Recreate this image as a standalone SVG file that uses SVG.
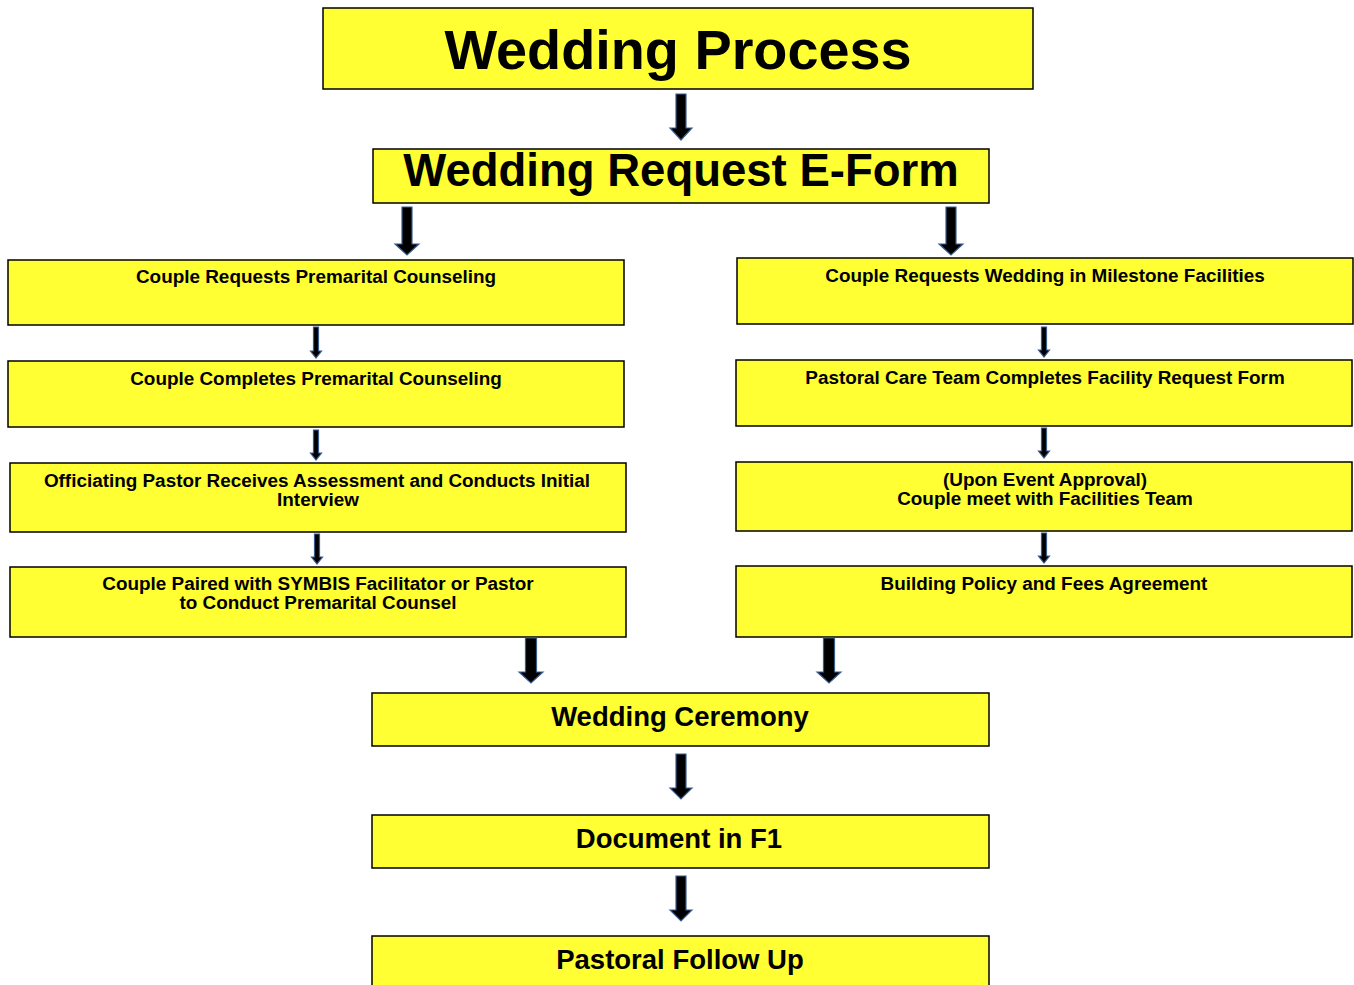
<svg xmlns="http://www.w3.org/2000/svg" width="1354" height="985" viewBox="0 0 1354 985">
<style>
.box{fill:#FFFF33;stroke:#000;stroke-width:1.5}
.arr{fill:#000;stroke:#3B5C8F;stroke-width:1.2;stroke-linejoin:miter}
text{font-family:"Liberation Sans",Arial,sans-serif;font-weight:bold;fill:#000;text-anchor:middle}
.s{font-size:18.9px}
.m{font-size:27.5px}
</style>
<rect width="1354" height="985" fill="#fff"/>
<g id="n-process"><rect class="box" x="323" y="8" width="710" height="81"/><text x="678" y="69" style="font-size:55.8px">Wedding Process</text></g>
<g id="n-eform"><rect class="box" x="373" y="149" width="616" height="54"/><text x="681" y="186" style="font-size:45.5px">Wedding Request E-Form</text></g>
<g id="n-l1"><rect class="box" x="8" y="260" width="616" height="65"/><text class="s" x="316" y="282.5">Couple Requests Premarital Counseling</text></g>
<g id="n-l2"><rect class="box" x="8" y="361" width="616" height="66"/><text class="s" x="316" y="384.5">Couple Completes Premarital Counseling</text></g>
<g id="n-l3"><rect class="box" x="10" y="463" width="616" height="69"/><text class="s" x="317" y="486.5">Officiating Pastor Receives Assessment and Conducts Initial</text><text class="s" x="318" y="505.5">Interview</text></g>
<g id="n-l4"><rect class="box" x="10" y="567" width="616" height="70"/><text class="s" x="318" y="589.5">Couple Paired with SYMBIS Facilitator or Pastor</text><text class="s" x="318" y="608.5">to Conduct Premarital Counsel</text></g>
<g id="n-r1"><rect class="box" x="737" y="258" width="616" height="66"/><text class="s" x="1045" y="281.5">Couple Requests Wedding in Milestone Facilities</text></g>
<g id="n-r2"><rect class="box" x="736" y="360" width="616" height="66"/><text class="s" x="1045" y="383.5">Pastoral Care Team Completes Facility Request Form</text></g>
<g id="n-r3"><rect class="box" x="736" y="462" width="616" height="69"/><text class="s" x="1045" y="485.5">(Upon Event Approval)</text><text class="s" x="1045" y="504.5">Couple meet with Facilities Team</text></g>
<g id="n-r4"><rect class="box" x="736" y="566" width="616" height="71"/><text class="s" x="1044" y="589.5">Building Policy and Fees Agreement</text></g>
<g id="n-ceremony"><rect class="box" x="372" y="693" width="617" height="53"/><text class="m" x="680" y="726">Wedding Ceremony</text></g>
<g id="n-document"><rect class="box" x="372" y="815" width="617" height="53"/><text class="m" x="679" y="848">Document in F1</text></g>
<g id="n-followup"><rect class="box" x="372" y="936" width="617" height="60"/><text class="m" x="680" y="969">Pastoral Follow Up</text></g>
<g id="connectors">
<polygon class="arr" points="676,94 686,94 686,128 692,128 681,140 670,128 676,128"/>
<polygon class="arr" points="402,207 412,207 412,244 419,244 407,255 395,244 402,244"/>
<polygon class="arr" points="946,207 956,207 956,244 963,244 951,255 939,244 946,244"/>
<polygon class="arr" points="313.5,327 318.5,327 318.5,351 321.5,351 316,358 310.5,351 313.5,351"/>
<polygon class="arr" points="313.5,430 318.5,430 318.5,453 321.5,453 316,460 310.5,453 313.5,453"/>
<polygon class="arr" points="314.5,534 319.5,534 319.5,557 322.5,557 317,564 311.5,557 314.5,557"/>
<polygon class="arr" points="1041.5,327 1046.5,327 1046.5,350 1049.5,350 1044,357 1038.5,350 1041.5,350"/>
<polygon class="arr" points="1041.5,428 1046.5,428 1046.5,451 1049.5,451 1044,458 1038.5,451 1041.5,451"/>
<polygon class="arr" points="1041.5,533 1046.5,533 1046.5,556 1049.5,556 1044,563 1038.5,556 1041.5,556"/>
<polygon class="arr" points="525.5,638 536.5,638 536.5,672 543,672 531,683 519,672 525.5,672"/>
<polygon class="arr" points="823.5,638 834.5,638 834.5,672 841,672 829,683 817,672 823.5,672"/>
<polygon class="arr" points="676,754 686,754 686,788 692,788 681,799 670,788 676,788"/>
<polygon class="arr" points="676,876 686,876 686,910 692,910 681,921 670,910 676,910"/>
</g>
</svg>
